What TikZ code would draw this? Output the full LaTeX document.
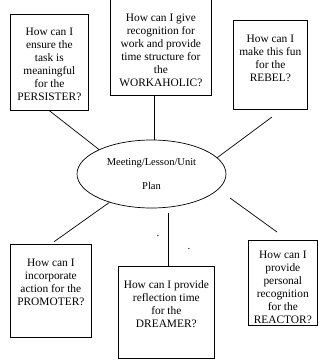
\documentclass[tikz,border=0pt]{standalone}
\usepackage{fontspec}
\setmainfont{Liberation Serif}
\usetikzlibrary{shapes.geometric}

% width, height, first baseline, lines
\newcommand{\boxtext}[4]{\parbox[c][#2pt][t]{#1pt}{\centering\rule{0pt}{#3pt}#4}}

\tikzset{
    qbox/.style={draw, line width=0.7pt, inner sep=0pt, anchor=north west,
        font=\fontsize{11.4}{13}\selectfont},
    link/.style={line width=0.7pt}
}

\begin{document}
\begin{tikzpicture}[x=1pt, y=-1pt]
    \useasboundingbox (0,0) rectangle (320,362);

    \node[ellipse, draw, line width=0.7pt, minimum width=149pt, minimum height=68pt,
        inner sep=0pt, align=center, font=\fontsize{10.5}{13}\selectfont]
        (plan) at (151.5,174) {Meeting/Lesson/Unit\\[11pt]Plan};

    \node[qbox] (pers) at (10,14)
        {\boxtext{78}{96}{21}{How can I\\ensure the\\task is\\meaningful\\for the\\PERSISTER?}};
    \node[qbox] (work) at (110,-1)
        {\boxtext{101}{96}{22}{How can I give\\recognition for\\work and provide\\time structure for\\the\\WORKAHOLIC?}};
    \node[qbox] (rebel) at (233,20)
        {\boxtext{74}{89}{22}{How can I\\make this fun\\for the\\REBEL?}};
    \node[qbox] (promo) at (10,244)
        {\boxtext{81}{93}{22}{How can I\\incorporate\\action for the\\PROMOTER?}};
    \node[qbox] (dream) at (118,266)
        {\boxtext{96}{92}{22}{How can I provide\\reflection time\\for the\\DREAMER?}};
    \node[qbox] (react) at (248,240)
        {\boxtext{69}{85}{18}{How can I\\provide\\personal\\recognition\\for the\\REACTOR?}};

    % stray dots
    \node[anchor=base, inner sep=0pt, font=\fontsize{11}{13}\selectfont] (dota) at (158,236) {.};
    \node[anchor=base, inner sep=0pt, font=\fontsize{11}{13}\selectfont] (dotb) at (189,249) {.};

    % free ends
    \coordinate (rebelend) at (272,117);
    \coordinate (reactstart) at (230,198);
    \coordinate (reactend) at (277,232);
    \coordinate (dreamtop) at (168,213);

    \draw[link] (pers.south) -- (plan.155);
    \draw[link] (plan.86) -- (plan.86 |- work.south);
    \draw[link] (plan.14) -- (rebelend);
    \draw[link] (reactstart) -- (reactend);
    \draw[link, shorten <=4pt] (promo.north) -- (plan.214);
    \draw[link] (dreamtop) -- (dreamtop |- dream.north);

\end{tikzpicture}
\end{document}
